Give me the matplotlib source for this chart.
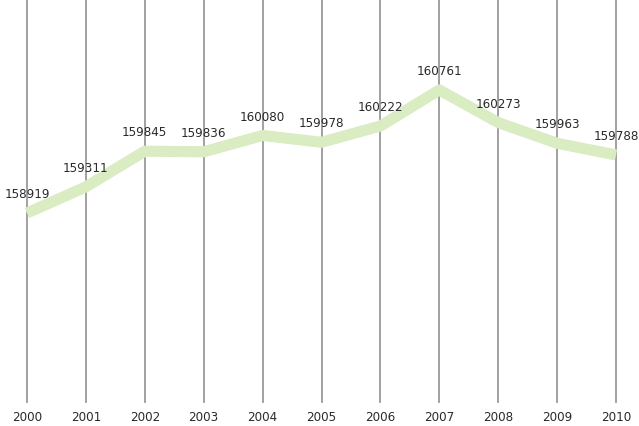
import matplotlib
matplotlib.use("Agg")
import matplotlib.pyplot as plt
import matplotlib.transforms as mtransforms

years = [2000, 2001, 2002, 2003, 2004, 2005, 2006, 2007, 2008, 2009, 2010]
values = [158919, 159311, 159845, 159836, 160080, 159978, 160222, 160761, 160273, 159963, 159788]
year_labels = [str(y) for y in years]

font = ["DejaVu Sans"]

fig = plt.figure(figsize=(6.39, 4.26), dpi=100)
ax = fig.add_axes([0, 0, 1, 1])
ax.set_xlim(2000 - 0.458, 2010 + 0.39)
ax.set_ylim(155731, 162108)
ax.axis("off")

# vertical guide line for each year
blend = mtransforms.blended_transform_factory(ax.transData, ax.transAxes)
for y in years:
    ax.plot([y, y], [0.056, 1.0], transform=blend, color="#9a9a9a", lw=1.3, zorder=1)

ax.plot(years, values, color="#d9ecc2", lw=8, solid_joinstyle="round",
        solid_capstyle="butt", zorder=2)

for x, v in zip(years, values):
    ax.annotate(f"{v}", (x, v), xytext=(0, 8.5), textcoords="offset points",
                ha="center", va="bottom", fontsize=9.5, color="#2a2a2a",
                family=font, fontstretch="condensed", zorder=3)

for x, lab in zip(years, year_labels):
    ax.text(x, 0.021, lab, transform=blend, ha="center", va="center",
            fontsize=9.5, color="#2a2a2a", family=font, fontstretch="condensed")

fig.savefig("out.png", dpi=100)
